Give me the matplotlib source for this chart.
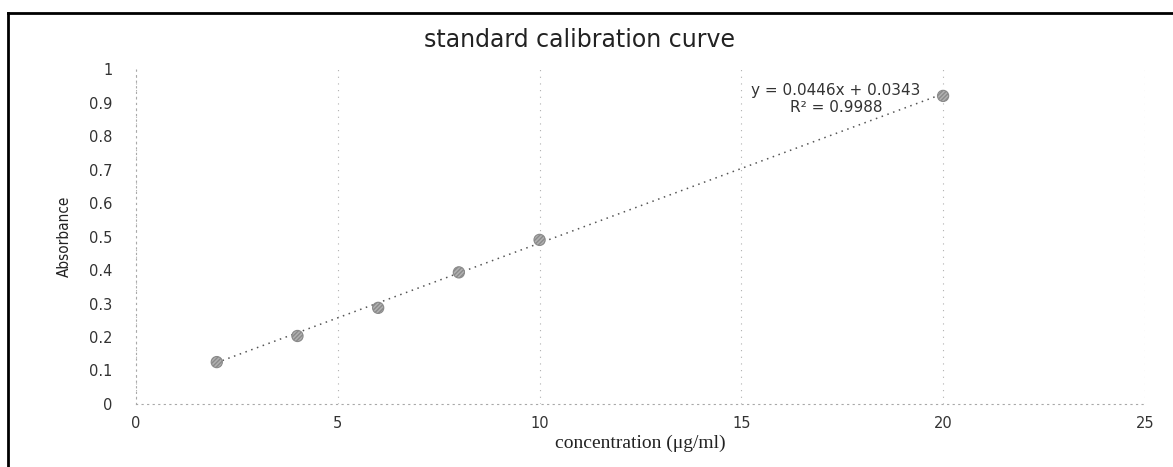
import numpy as np
import matplotlib
matplotlib.use("Agg")
import matplotlib.pyplot as plt
from matplotlib.lines import Line2D

# ── Data ───────────────────────────────────────────────────────────────────────
conc = [2, 4, 6, 8, 10, 20]
absorb = [0.125, 0.203, 0.287, 0.393, 0.49, 0.92]
slope, intercept, r2 = 0.0446, 0.0343, 0.9988
x_ticks = [0, 5, 10, 15, 20, 25]
y_ticks = [0, 0.1, 0.2, 0.3, 0.4, 0.5, 0.6, 0.7, 0.8, 0.9, 1]

plt.rcParams["font.family"] = ["DejaVu Sans"]

fig = plt.figure(figsize=(11.73, 4.67), dpi=100)
ax = fig.add_axes([0.116, 0.135, 0.86, 0.717])

# trendline
xl = np.array([min(conc), max(conc)])
ax.plot(xl, slope * xl + intercept, linestyle=(0, (1, 3)), color="#555555", lw=1.1, zorder=2)
ax.scatter(conc, absorb, s=65, color="#b0b0b0", edgecolors="#8a8a8a", linewidths=0.8,
           hatch="////////", zorder=3)

ax.set_xlim(0, 25)
ax.set_ylim(0, 1)
ax.set_xticks(x_ticks)
ax.set_yticks(y_ticks)
ax.set_yticklabels([f"{v:g}" for v in y_ticks])
ax.tick_params(length=0, labelsize=10.5, colors="#333333")
ax.tick_params(axis="x", pad=9)
ax.tick_params(axis="y", pad=17)

ax.grid(axis="x", linestyle=(0, (1, 5)), color="#b0b0b0", lw=0.8)
for side in ["top", "right"]:
    ax.spines[side].set_visible(False)
for side in ["left", "bottom"]:
    ax.spines[side].set_linestyle((0, (1, 4)))
    ax.spines[side].set_color("#a8a8a8")
    ax.spines[side].set_linewidth(0.8)

fig.text(0.494, 1 - 40 / 467, "standard calibration curve", fontsize=17, color="#222222",
         ha="center", va="center")
ax.set_xlabel("concentration (μg/ml)", family=["Liberation Serif", "DejaVu Serif"],
              fontsize=14, color="#222222", labelpad=2)
ax.set_ylabel("Absorbance", family=["DejaVu Sans"], stretch="condensed",
              fontsize=11, color="#222222", labelpad=12)

ax.text(17.35, 0.935, f"y = {slope}x + {intercept}", fontsize=11, color="#333333",
        ha="center", va="center")
ax.text(17.35, 0.885, f"R² = {r2}", fontsize=11, color="#333333",
        ha="center", va="center")

# scanned page border
fig.add_artist(Line2D([8 / 1173, 1], [1 - 13 / 467, 1 - 13 / 467], color="black", lw=2,
                      transform=fig.transFigure))
fig.add_artist(Line2D([8 / 1173, 8 / 1173], [0, 1 - 13 / 467], color="black", lw=2,
                      transform=fig.transFigure))

fig.savefig("out.png", dpi=100)
